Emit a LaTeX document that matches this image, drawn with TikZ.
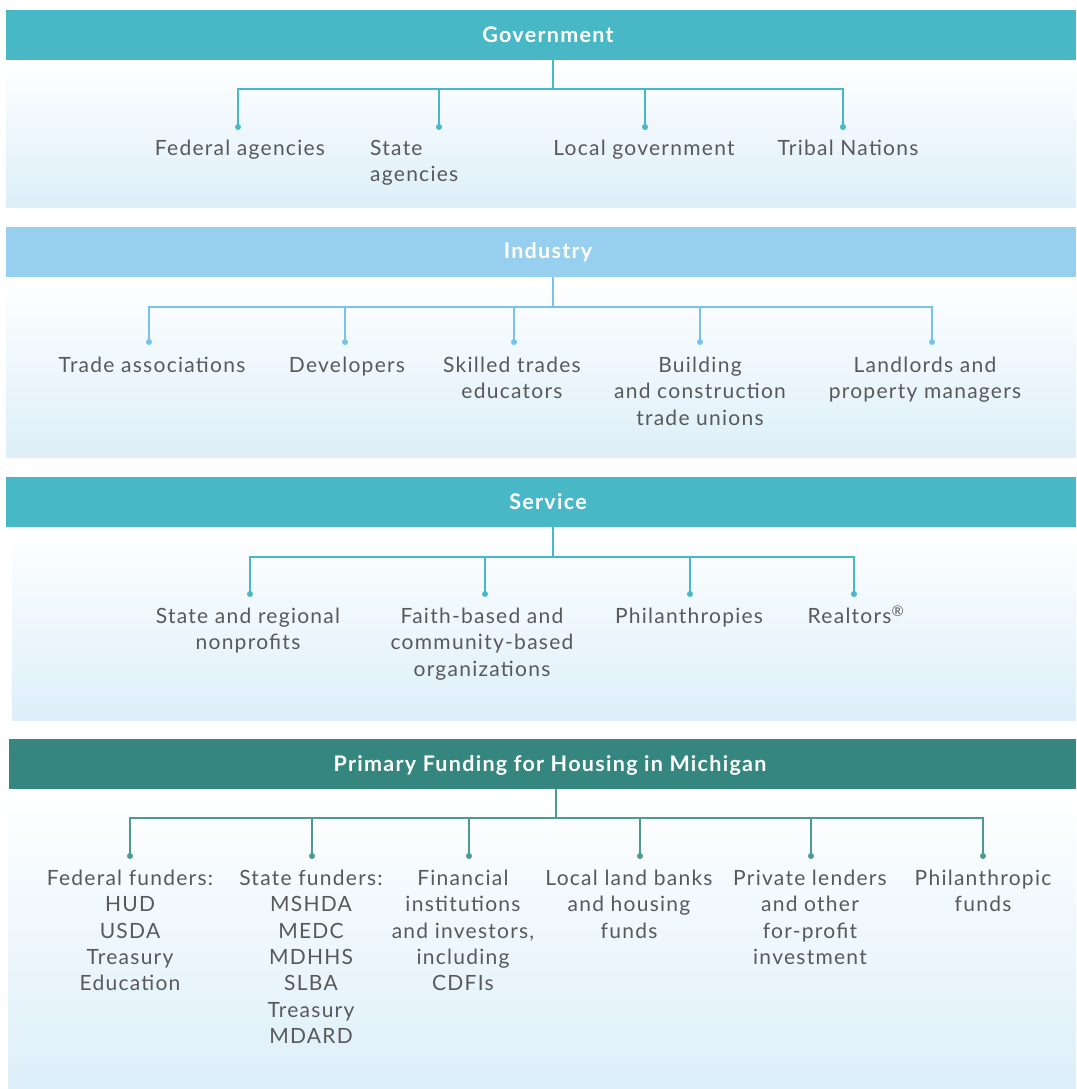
\documentclass[tikz,border=0pt]{standalone}
\usepackage{fontspec}
\setmainfont{Lato}[LetterSpace=6]
\begin{document}
\begin{tikzpicture}[x=1pt,y=-1pt,
  hdr/.style={rectangle, inner sep=0pt, minimum height=50pt, anchor=north west},
  htxt/.style={text=white, inner sep=0pt, font=\fontsize{21.5}{25}\selectfont\bfseries},
  lbl/.style={inner sep=0pt, anchor=north, align=center, text=txtgray,
    font=\fontsize{21}{26.3}\selectfont},
  dotc/.style={circle, fill, inner sep=0pt, minimum size=6pt},
  conn/.style={line width=1.3pt},
]
\definecolor{govteal}{HTML}{49B8C6}
\definecolor{indblue}{HTML}{97D0EF}
\definecolor{indline}{HTML}{78C3EA}
\definecolor{fundteal}{HTML}{35867E}
\definecolor{fundline}{HTML}{4E9A93}
\definecolor{panelblue}{HTML}{DDEFF9}
\definecolor{txtgray}{HTML}{58595B}
\useasboundingbox (0,0) rectangle (1076,1089);
\fill[white] (0,0) rectangle (1076,1089);

% ---------------- Government ----------------
\shade[top color=white, bottom color=panelblue] (6,60) rectangle (1076,207);
\node[hdr, fill=govteal, minimum width=1070pt] (g) at (6,10) {};
\node[htxt] (gt) at (548,35) {Government};
\coordinate (gj) at (553,89);
\coordinate (gd1) at (238,127);
\coordinate (gd2) at (439,127);
\coordinate (gd3) at (645,127);
\coordinate (gd4) at (843,127);
\begin{scope}[govteal]
\draw[conn] (gj |- g.south) -- (gj);
\draw[conn] (gd1) |- (gj) -| (gd4);
\draw[conn] (gd2 |- gj) -- (gd2);
\draw[conn] (gd3 |- gj) -- (gd3);
\foreach \d in {gd1,gd2,gd3,gd4} \node[dotc] at (\d) {};
\end{scope}
\node[lbl] (g1) at (240,140) {Federal agencies};
\node[lbl, anchor=north west, align=left] (g2) at (370,140) {State\\agencies};
\node[lbl] (g3) at (644,140) {Local government};
\node[lbl] (g4) at (848,140) {Tribal Nations};

% ---------------- Industry ----------------
\shade[top color=white, bottom color=panelblue] (6,277) rectangle (1076,457);
\node[hdr, fill=indblue, minimum width=1070pt] (i) at (6,227) {};
\node[htxt] (it) at (548,252) {Industry};
\coordinate (ij) at (553,307);
\coordinate (id1) at (149,342);
\coordinate (id2) at (345,342);
\coordinate (id3) at (514,342);
\coordinate (id4) at (700,342);
\coordinate (id5) at (932,342);
\begin{scope}[indline]
\draw[conn] (ij |- i.south) -- (ij);
\draw[conn] (id1) |- (ij) -| (id5);
\draw[conn] (id2 |- ij) -- (id2);
\draw[conn] (id3 |- ij) -- (id3);
\draw[conn] (id4 |- ij) -- (id4);
\foreach \d in {id1,id2,id3,id4,id5} \node[dotc] at (\d) {};
\end{scope}
\node[lbl] (i1) at (152,357) {Trade associations};
\node[lbl] (i2) at (347,357) {Developers};
\node[lbl] (i3) at (512,357) {Skilled trades\\educators};
\node[lbl] (i4) at (700,357) {Building\\and construction\\trade unions};
\node[lbl] (i5) at (925,357) {Landlords and\\property managers};

% ---------------- Service ----------------
\shade[top color=white, bottom color=panelblue] (12,527) rectangle (1076,720);
\node[hdr, fill=govteal, minimum width=1070pt] (s) at (6,477) {};
\node[htxt] (st) at (548,502) {Service};
\coordinate (sj) at (553,557);
\coordinate (sd1) at (250,594);
\coordinate (sd2) at (485,594);
\coordinate (sd3) at (690,594);
\coordinate (sd4) at (854,594);
\begin{scope}[govteal]
\draw[conn] (sj |- s.south) -- (sj);
\draw[conn] (sd1) |- (sj) -| (sd4);
\draw[conn] (sd2 |- sj) -- (sd2);
\draw[conn] (sd3 |- sj) -- (sd3);
\foreach \d in {sd1,sd2,sd3,sd4} \node[dotc] at (\d) {};
\end{scope}
\node[lbl] (s1) at (248,608) {State and regional\\nonprofits};
\node[lbl] (s2) at (482,608) {Faith-based and\\community-based\\organizations};
\node[lbl] (s3) at (689,608) {Philanthropies};
\node[lbl] (s4) at (856,608) {Realtors\smash{\textsuperscript{®}}};

% ---------------- Funding ----------------
\shade[top color=white, bottom color=panelblue] (8,789) rectangle (1076,1088);
\node[hdr, fill=fundteal, minimum width=1067pt] (f) at (9,739) {};
\node[htxt] (ft) at (550,765) {Primary Funding for Housing in Michigan};
\coordinate (fj) at (556,818);
\coordinate (fd1) at (130,856);
\coordinate (fd2) at (312,856);
\coordinate (fd3) at (469,856);
\coordinate (fd4) at (640,856);
\coordinate (fd5) at (811,856);
\coordinate (fd6) at (983,856);
\begin{scope}[fundline]
\draw[conn] (fj |- f.south) -- (fj);
\draw[conn] (fd1) |- (fj) -| (fd6);
\draw[conn] (fd2 |- fj) -- (fd2);
\draw[conn] (fd3 |- fj) -- (fd3);
\draw[conn] (fd4 |- fj) -- (fd4);
\draw[conn] (fd5 |- fj) -- (fd5);
\foreach \d in {fd1,fd2,fd3,fd4,fd5,fd6} \node[dotc] at (\d) {};
\end{scope}
\node[lbl] (f1) at (130,870) {Federal funders:\\HUD\\USDA\\Treasury\\Education};
\node[lbl] (f2) at (311,870) {State funders:\\MSHDA\\MEDC\\MDHHS\\SLBA\\Treasury\\MDARD};
\node[lbl] (f3) at (463,870) {Financial\\institutions\\and investors,\\including\\CDFIs};
\node[lbl] (f4) at (629,870) {Local land banks\\and housing\\funds};
\node[lbl] (f5) at (810,870) {Private lenders\\and other\\for-profit\\investment};
\node[lbl] (f6) at (983,870) {Philanthropic\\funds};
\end{tikzpicture}
\end{document}
